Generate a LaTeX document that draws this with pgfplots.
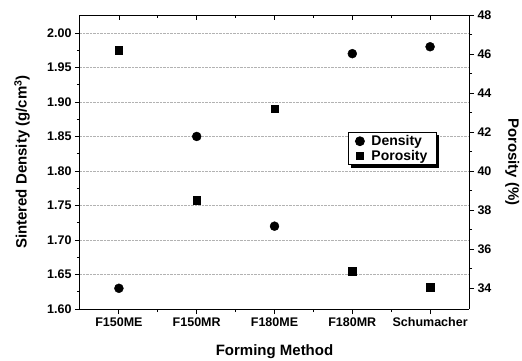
\documentclass[border=0pt]{standalone}
\usepackage{fontspec}
\setmainfont{Liberation Sans}
\usepackage{pgfplots}
\pgfplotsset{compat=1.18}
\usetikzlibrary{shadows}
\begin{document}
\begin{tikzpicture}
\pgfplotsset{
  every axis/.append style={
    width=389pt, height=294pt, scale only axis,
    xmin=-0.5, xmax=4.5,
    /pgf/number format/assume math mode=true,
    tick label style={font=\fontsize{12.5}{14}\selectfont\bfseries},
    label style={font=\fontsize{15}{17}\selectfont\bfseries},
    axis line style={line width=1pt},
    tick style={black, line width=0.8pt},
    major tick length=5pt, minor tick length=3pt,
    tick align=outside,
  }
}
\begin{axis}[name=main,
  axis y line*=left,
  ymin=1.60, ymax=2.026,
  ytick={1.60,1.65,1.70,1.75,1.80,1.85,1.90,1.95,2.00},
  yticklabel style={/pgf/number format/fixed, /pgf/number format/fixed zerofill, /pgf/number format/precision=2},
  minor y tick num=1,
  ymajorgrids, grid style={densely dotted, gray!60, line width=0.5pt},
  xtick={0,1,2,3,4}, xticklabels={F150ME,F150MR,F180ME,F180MR,Schumacher},
  minor x tick num=1,
  xtick pos=bottom,
  xlabel={Forming Method},
  ylabel={Sintered Density (g/cm$^{\mathbf{3}}$)},
  ylabel style={at={(axis description cs:-0.149,0.5)}, anchor=center},
  xlabel style={at={(axis description cs:0.5,-0.146)}, anchor=center},
]
\addplot[only marks, mark=*, black, mark size=4.5pt] coordinates {
  (0,1.63) (1,1.85) (2,1.72) (3,1.97) (4,1.98)
};
\end{axis}
\begin{axis}[
  axis y line*=right, axis x line*=top,
  ymin=32.92, ymax=48,
  ytick={34,36,38,40,42,44,46,48},
  minor y tick num=1,
  xtick={0,1,2,3,4}, xticklabels={}, minor x tick num=1,
  xtick align=inside,
  ylabel={Porosity (\%)},
  ylabel style={at={(axis description cs:1.111,0.5)}, anchor=center, rotate=180},
  legend style={at={(0.689,0.602)}, anchor=north west, draw=black, line width=0.8pt,
    fill=white, font=\fontsize{14}{16}\selectfont\bfseries,
    drop shadow={shadow xshift=3pt, shadow yshift=-3pt, fill=black, opacity=1},
    row sep=-1pt, inner ysep=1pt, inner xsep=7pt,
    /tikz/every odd column/.append style={column sep=5pt}},
  legend cell align=left,
]
\addlegendimage{only marks, mark=*, black, mark size=4.5pt}
\addlegendentry{Density}
\addplot[only marks, mark=square*, black, mark size=3.75pt] coordinates {
  (0,46.2) (1,38.5) (2,43.2) (3,34.85) (4,34.05)
};
\addlegendentry{Porosity}
\end{axis}
\pgfresetboundingbox
\path[use as bounding box] ([xshift=-80pt,yshift=-51pt]main.south west) rectangle ++(522pt,360pt);
\end{tikzpicture}
\end{document}
